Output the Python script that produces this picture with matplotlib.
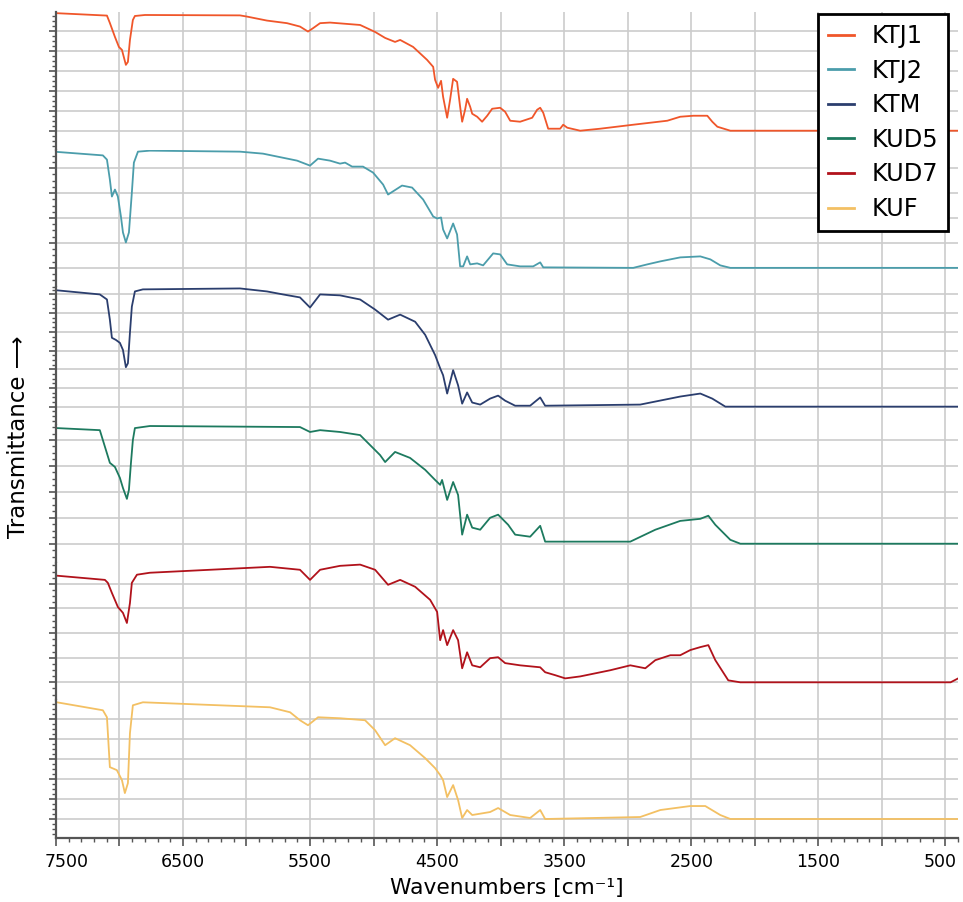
import matplotlib
matplotlib.use("Agg")
import matplotlib.pyplot as plt
from matplotlib.ticker import MultipleLocator, AutoMinorLocator, FuncFormatter
from matplotlib.transforms import ScaledTranslation

# sample names and line colours
names = ["KTJ1", "KTJ2", "KTM", "KUD5", "KUD7", "KUF"]
colors = ["#f0562a", "#4b9dab", "#2b3e6e", "#1d7a5f", "#b1121b", "#f3c063"]

# wavenumber [cm-1] / transmittance (arbitrary units, 0 = flat baseline)
ktj1_wn = [7492, 7098, 7075, 7035, 7004, 6980, 6949, 6933, 6917, 6894, 6878, 6799,
           6051, 5996, 5839, 5681, 5579, 5516, 5476, 5421, 5343, 5106, 4988, 4909,
           4831, 4791, 4689, 4579, 4531, 4516, 4492, 4469, 4453, 4421, 4398, 4374,
           4343, 4319, 4303, 4280, 4264, 4240, 4224, 4185, 4146, 4106, 4067, 4004,
           3965, 3925, 3847, 3752, 3713, 3689, 3665, 3626, 3532, 3508, 3476, 3374,
           3217, 2957, 2689, 2587, 2484, 2374, 2335, 2295, 2193, 400]
ktj1_t = [5.89, 5.77, 5.40, 4.70, 4.20, 4.05, 3.30, 3.45, 4.55, 5.55, 5.75, 5.80,
          5.78, 5.72, 5.52, 5.39, 5.22, 4.97, 5.14, 5.39, 5.42, 5.30, 4.95, 4.65,
          4.45, 4.55, 4.20, 3.55, 3.20, 2.55, 2.15, 2.50, 1.70, 0.65, 1.55, 2.60,
          2.45, 1.20, 0.45, 1.05, 1.60, 1.20, 0.85, 0.70, 0.45, 0.75, 1.10, 1.15,
          0.95, 0.50, 0.45, 0.65, 1.05, 1.15, 0.90, 0.10, 0.10, 0.30, 0.15, 0.00,
          0.10, 0.30, 0.50, 0.70, 0.75, 0.75, 0.45, 0.20, 0.00, 0.00]

ktj2_wn = [7492, 7130, 7098, 7075, 7059, 7035, 7012, 6988, 6972, 6949, 6925, 6902,
           6886, 6854, 6760, 6051, 5870, 5602, 5500, 5437, 5343, 5264, 5224, 5169,
           5083, 5004, 4925, 4886, 4776, 4697, 4610, 4531, 4500, 4469, 4453, 4421,
           4374, 4343, 4319, 4295, 4264, 4240, 4185, 4138, 4059, 4004, 3949, 3847,
           3744, 3689, 3665, 2957, 2846, 2744, 2587, 2429, 2350, 2272, 2193, 400]
ktj2_t = [4.65, 4.51, 4.34, 3.54, 2.86, 3.14, 2.86, 2.06, 1.42, 1.02, 1.42, 3.02,
          4.22, 4.66, 4.70, 4.66, 4.58, 4.30, 4.10, 4.38, 4.30, 4.18, 4.22, 4.06,
          4.06, 3.82, 3.34, 2.94, 3.30, 3.22, 2.74, 2.06, 1.98, 2.02, 1.54, 1.18,
          1.78, 1.34, 0.06, 0.06, 0.46, 0.14, 0.18, 0.10, 0.58, 0.54, 0.14, 0.06,
          0.06, 0.22, 0.02, 0.00, 0.14, 0.26, 0.42, 0.46, 0.34, 0.10, 0.00, 0.00]

ktm_wn = [7492, 7154, 7098, 7075, 7059, 7028, 6996, 6972, 6949, 6933, 6917, 6902,
          6878, 6815, 6051, 5839, 5713, 5579, 5500, 5421, 5264, 5106, 4988, 4886,
          4791, 4673, 4594, 4516, 4476, 4453, 4421, 4374, 4335, 4303, 4264, 4224,
          4161, 4083, 4020, 3965, 3886, 3768, 3689, 3650, 2902, 2587, 2429, 2335,
          2232, 400]
ktm_t = [6.22, 6.00, 5.73, 4.65, 3.68, 3.57, 3.41, 3.03, 2.11, 2.32, 3.95, 5.35,
         6.16, 6.27, 6.32, 6.16, 6.00, 5.84, 5.30, 6.00, 5.95, 5.73, 5.19, 4.65,
         4.92, 4.54, 3.84, 2.76, 2.05, 1.68, 0.70, 1.95, 1.14, 0.16, 0.76, 0.22,
         0.11, 0.43, 0.59, 0.32, 0.05, 0.05, 0.49, 0.05, 0.11, 0.54, 0.70, 0.43,
         0.00, 0.00]

kud5_wn = [7492, 7154, 7075, 7035, 6996, 6972, 6941, 6925, 6909, 6894, 6878, 6760,
           5579, 5500, 5421, 5264, 5106, 4949, 4909, 4831, 4713, 4594, 4516, 4476,
           4461, 4421, 4374, 4335, 4303, 4264, 4224, 4161, 4083, 4020, 3941, 3886,
           3768, 3689, 3650, 2980, 2783, 2587, 2429, 2366, 2311, 2193, 2114, 400]
kud5_t = [4.46, 4.38, 3.12, 2.96, 2.54, 2.15, 1.73, 2.08, 3.12, 4.00, 4.46, 4.54,
          4.50, 4.31, 4.38, 4.31, 4.19, 3.42, 3.15, 3.54, 3.31, 2.85, 2.46, 2.27,
          2.46, 1.69, 2.38, 1.88, 0.35, 1.12, 0.62, 0.54, 1.00, 1.12, 0.73, 0.35,
          0.27, 0.69, 0.08, 0.08, 0.54, 0.88, 0.96, 1.08, 0.73, 0.15, 0.00, 0.00]

kud7_wn = [7492, 7114, 7091, 7059, 7012, 6972, 6941, 6917, 6902, 6862, 6760, 5815,
           5579, 5500, 5421, 5264, 5106, 4988, 4886, 4791, 4673, 4555, 4500, 4476,
           4453, 4421, 4374, 4335, 4303, 4264, 4224, 4161, 4083, 4020, 3965, 3847,
           3689, 3650, 3571, 3492, 3374, 3138, 2980, 2862, 2783, 2665, 2587, 2508,
           2429, 2366, 2311, 2209, 2114, 460, 400]
kud7_t = [4.33, 4.16, 4.04, 3.63, 3.06, 2.82, 2.41, 3.22, 4.04, 4.37, 4.45, 4.69,
          4.57, 4.16, 4.57, 4.73, 4.78, 4.57, 3.96, 4.16, 3.88, 3.35, 2.86, 1.71,
          2.12, 1.51, 2.12, 1.71, 0.57, 1.22, 0.69, 0.61, 0.98, 1.02, 0.78, 0.69,
          0.61, 0.41, 0.29, 0.16, 0.24, 0.49, 0.69, 0.57, 0.90, 1.10, 1.10, 1.31,
          1.43, 1.51, 0.90, 0.08, 0.00, 0.00, 0.16]

kuf_wn = [7492, 7130, 7098, 7075, 7020, 6980, 6957, 6933, 6917, 6894, 6815, 5815,
          5657, 5579, 5516, 5437, 5264, 5067, 4988, 4909, 4831, 4713, 4594, 4516,
          4476, 4453, 4421, 4374, 4335, 4303, 4264, 4224, 4083, 4020, 3925, 3768,
          3689, 3650, 2902, 2744, 2508, 2390, 2272, 2193, 400]
kuf_t = [5.85, 5.45, 5.10, 2.60, 2.45, 1.95, 1.30, 1.80, 4.30, 5.70, 5.85, 5.60,
         5.35, 4.95, 4.70, 5.10, 5.05, 4.95, 4.45, 3.70, 4.05, 3.70, 3.05, 2.55,
         2.20, 1.95, 1.10, 1.70, 0.95, 0.05, 0.45, 0.20, 0.35, 0.55, 0.20, 0.05,
         0.45, 0.00, 0.10, 0.45, 0.65, 0.65, 0.20, 0.00, 0.00]

spectra = [(ktj1_wn, ktj1_t), (ktj2_wn, ktj2_t), (ktm_wn, ktm_t),
           (kud5_wn, kud5_t), (kud7_wn, kud7_t), (kuf_wn, kuf_t)]
y_ranges = [(-0.95, 5.95), (-0.78, 4.74), (-0.98, 6.38),
            (-0.73, 4.58), (-0.73, 4.86), (-0.95, 5.95)]

fig, axes = plt.subplots(6, 1, sharex=True, figsize=(9.63, 9.02), dpi=100)
fig.subplots_adjust(left=0.058, right=0.995, top=0.9867, bottom=0.071, hspace=0)

grid_col = "#cccccc"
spine_col = "#555555"
lines = []
for i, ax in enumerate(axes):
    wn, t = spectra[i]
    ln, = ax.plot(wn, t, color=colors[i], lw=1.3)
    lines.append(ln)
    ax.set_ylim(*y_ranges[i])
    ax.yaxis.set_major_locator(MultipleLocator(1))
    ax.yaxis.set_minor_locator(AutoMinorLocator(4))
    ax.set_yticklabels([])
    ax.set_axisbelow(True)
    ax.grid(True, which="major", color=grid_col, lw=1.2)
    for s in ["top", "right"]:
        ax.spines[s].set_visible(False)
    ax.spines["left"].set_color(spine_col)
    ax.spines["left"].set_linewidth(1.6)
    ax.tick_params(axis="y", which="major", length=5, width=1.2, color=spine_col)
    ax.tick_params(axis="y", which="minor", length=3, width=1.0, color=spine_col)
    if i < 5:
        ax.spines["bottom"].set_visible(False)
        ax.tick_params(axis="x", which="both", bottom=False)

ax = axes[-1]
ax.set_xlim(7500, 400)
ax.xaxis.set_major_locator(MultipleLocator(500))
ax.xaxis.set_minor_locator(MultipleLocator(100))
ax.xaxis.set_major_formatter(
    FuncFormatter(lambda v, p: f"{v:.0f}" if round(v - 500) % 1000 == 0 else ""))
ax.spines["bottom"].set_color(spine_col)
ax.spines["bottom"].set_linewidth(1.6)
ax.tick_params(axis="x", which="major", length=6, width=1.2, color=spine_col,
               labelsize=12.5, pad=5)
ax.tick_params(axis="x", which="minor", length=3, width=1.0, color=spine_col)
ax.set_xlabel("Wavenumbers [cm⁻¹]", fontsize=15.7, labelpad=5)

fig.text(0.019, 0.5155, "Transmittance ⟶", rotation=90, fontsize=16.5,
         ha="center", va="center")

leg = fig.legend(lines, names, loc="upper right", bbox_to_anchor=(0.9844, 0.9845),
                 fontsize=17.3, fancybox=False, framealpha=1, edgecolor="black",
                 handlelength=1.1, handletextpad=0.7, labelspacing=0.44,
                 borderpad=0.42, borderaxespad=0)
leg.get_frame().set_linewidth(2)
for h in leg.get_lines():
    h.set_linewidth(2)

# keep the outermost tick labels inside the axis span
fig.canvas.draw()
for lab in ax.get_xticklabels():
    if lab.get_text() == "7500":
        lab.set_transform(lab.get_transform() + ScaledTranslation(0.11, 0, fig.dpi_scale_trans))
    elif lab.get_text() == "500":
        lab.set_transform(lab.get_transform() + ScaledTranslation(-0.05, 0, fig.dpi_scale_trans))

fig.savefig("out.png", dpi=100)
